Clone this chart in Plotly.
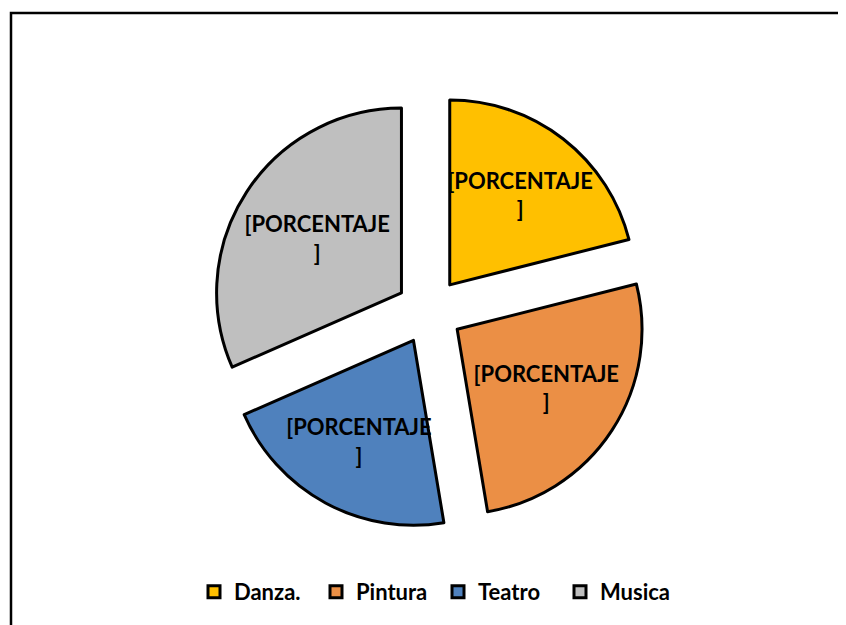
import plotly.graph_objects as go

# slice data (4/19, 5/19, 4/19, 6/19)
categories = ['Danza.', 'Pintura', 'Teatro', 'Musica']
values = [4, 5, 4, 6]
slice_text = ['[PORCENTAJE<br>]'] * 4
colors = ['#FFC000', '#EB8F45', '#4F81BD', '#BFBFBF']

FONT = 'Lato'
W, H = 846, 625
OFF = 8  # page body margin that the html adds around the plot div

fig = go.Figure(go.Pie(
    labels=categories,
    values=values,
    text=slice_text,
    textinfo='text',
    textposition='inside',
    insidetextorientation='horizontal',
    sort=False,
    direction='clockwise',
    rotation=0,
    pull=[0.18] * 4,
    marker=dict(colors=colors, line=dict(color='black', width=3)),
    textfont=dict(family=FONT, size=22, color='black', weight='bold'),
    domain=dict(x=[0.240, 0.756], y=[0.166, 0.864]),
    hoverinfo='label+percent',
))

fig.update_layout(
    width=W,
    height=H,
    margin=dict(l=0, r=0, t=0, b=0),
    paper_bgcolor='white',
    plot_bgcolor='white',
    uniformtext=dict(minsize=22, mode='show'),
    showlegend=True,
    legend=dict(
        orientation='h',
        x=(438 - OFF) / W, xanchor='center',
        y=1 - (592 - OFF) / H, yanchor='middle',
        font=dict(family=FONT, size=22, color='black', weight='bold'),
        itemwidth=30,
        entrywidth=77,
        traceorder='normal',
    ),
    shapes=[dict(
        type='rect', xref='paper', yref='paper',
        x0=(11 - OFF) / W, x1=1.05, y0=-0.05, y1=1 - (13 - OFF) / H,
        line=dict(color='black', width=2.5),
        fillcolor='rgba(0,0,0,0)',
    )],
)

fig.write_html('out.html')
